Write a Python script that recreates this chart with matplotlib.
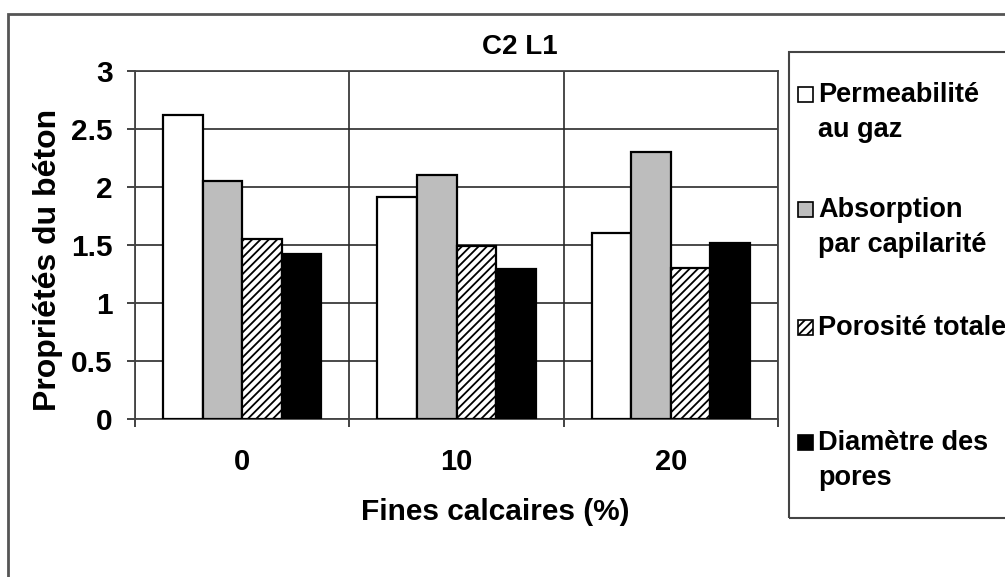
import numpy as np
import matplotlib
matplotlib.use('Agg')
import matplotlib.pyplot as plt
from matplotlib.patches import Rectangle

plt.rcParams['font.family'] = ['Liberation Sans', 'DejaVu Sans']
plt.rcParams['font.weight'] = 'bold'
plt.rcParams['hatch.linewidth'] = 1.3

categories = ['0', '10', '20']
series_names = ['Permeabilité\nau gaz', 'Absorption\npar capilarité',
                'Porosité totale', 'Diamètre des\npores']
permeabilite = [2.62, 1.91, 1.60]
absorption = [2.05, 2.10, 2.30]
porosite = [1.55, 1.49, 1.30]
diametre = [1.42, 1.29, 1.52]
y_ticks = [0, 0.5, 1, 1.5, 2, 2.5, 3]

W, H = 1005, 577


def px(x, y):
    # pixel position -> figure fraction
    return x / W, 1 - y / H


fig = plt.figure(figsize=(W / 100, H / 100), dpi=100)
fig.patch.set_facecolor('white')

# outer chart frame (runs off the right and bottom edges)
fig.patches.append(Rectangle(px(8, 640), 1.2, (640 - 14) / H, transform=fig.transFigure,
                             fill=False, edgecolor='#555555', linewidth=2))

left, right, top, bottom = 135, 778, 71, 419
ax = fig.add_axes([left / W, 1 - bottom / H, (right - left) / W, (bottom - top) / H])

styles = [dict(color='white', hatch=None),
          dict(color='#bdbdbd', hatch=None),
          dict(color='white', hatch='////'),
          dict(color='black', hatch=None)]
data = [permeabilite, absorption, porosite, diametre]

x = np.arange(len(categories))
bw = 0.185
for i, (vals, st) in enumerate(zip(data, styles)):
    ax.bar(x + (i - 1.5) * bw, vals, width=bw, color=st['color'], hatch=st['hatch'],
           edgecolor='black', linewidth=1.6, zorder=3)

ax.set_xlim(-0.5, len(categories) - 0.5)
ax.set_ylim(0, 3)
ax.set_yticks(y_ticks)
ax.set_yticklabels([f'{v:g}' for v in y_ticks])
ax.set_xticks(x)
ax.set_xticklabels(categories)
ax.set_xticks(np.arange(len(categories) + 1) - 0.5, minor=True)

ax.tick_params(axis='x', which='major', length=0, pad=21, labelsize=21)
ax.tick_params(axis='x', which='minor', length=6, width=1.2, direction='out', color='#222222')
ax.tick_params(axis='y', length=6, width=1.2, direction='out', pad=10, labelsize=21.5,
               color='#222222')

ax.grid(True, axis='y', which='major', color='#2a2a2a', linewidth=1.2, zorder=0)
ax.grid(True, axis='x', which='minor', color='#2a2a2a', linewidth=1.2, zorder=0)
ax.set_axisbelow(True)
for s in ax.spines.values():
    s.set_color('#444444')
    s.set_linewidth(1.3)

fig.text(*px(520, 47), 'C2 L1', ha='center', va='center', fontsize=20)
fig.text(*px(495, 512), 'Fines calcaires (%)', ha='center', va='center', fontsize=21.5)
fig.text(*px(48, 260), 'Propriétés du béton', ha='center', va='center', rotation=90,
         fontsize=23)

# legend box
fig.patches.append(Rectangle(px(789, 518), 1.0, (518 - 52) / H, transform=fig.transFigure,
                             fill=False, edgecolor='#444444', linewidth=1.5))
first_line_y = [95, 210, 328, 443]
line_gap = 35
for name, st, y0 in zip(series_names, styles, first_line_y):
    fig.patches.append(Rectangle(px(798, y0 + 7), 15 / W, 15 / H, transform=fig.transFigure,
                                 facecolor=st['color'], hatch=st['hatch'],
                                 edgecolor='black', linewidth=1.2))
    for k, line in enumerate(name.split('\n')):
        fig.text(*px(818, y0 + k * line_gap), line, ha='left', va='center', fontsize=19.5)

fig.savefig('out.png', dpi=100)
